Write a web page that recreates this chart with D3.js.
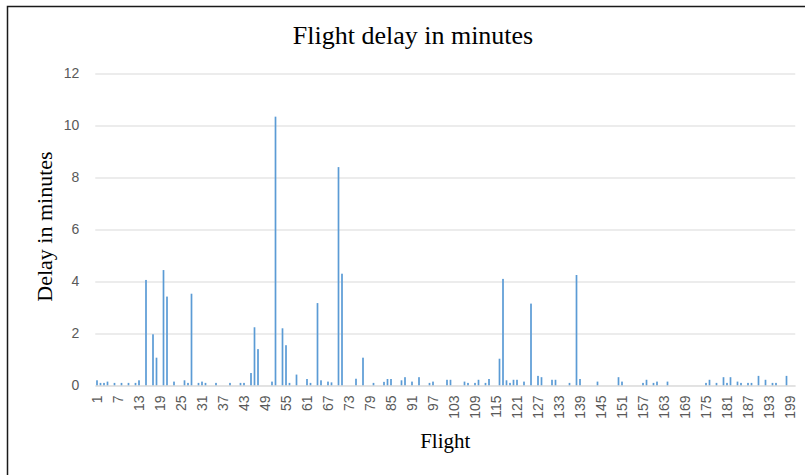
<!DOCTYPE html>
<html>
<head>
<meta charset="utf-8">
<script src="https://cdn.jsdelivr.net/npm/d3@7/dist/d3.min.js"></script>
<style>
  html, body { margin: 0; padding: 0; background: #fff; }
  svg { display: block; }
</style>
</head>
<body>
<svg id="chart" width="805" height="475"></svg>
<script>
// ---- data ----
const chartTitle = "Flight delay in minutes";
const xTitle = "Flight";
const yTitle = "Delay in minutes";
const flightCount = 200;
const delays = [
  0.2,0.1,0.1,0.15,0,0.1,0,0.1,0,0.1,
  0,0.1,0.2,0,4.06,0,1.97,1.07,0,4.44,
  3.42,0,0.15,0,0,0.2,0.1,3.53,0,0.1,
  0.15,0.1,0,0,0.1,0,0,0,0.1,0,
  0,0.1,0.1,0,0.48,2.24,1.4,0,0,0,
  0.15,10.34,0,2.2,1.55,0.1,0,0.42,0,0,
  0.25,0.1,0,3.17,0.2,0,0.15,0.12,0,8.4,
  4.3,0,0,0,0.26,0,1.07,0,0,0.1,
  0,0,0.14,0.25,0.25,0,0,0.2,0.32,0,
  0.15,0,0.32,0,0,0.1,0.15,0,0,0,
  0.22,0.22,0,0,0,0.15,0.1,0,0.1,0.22,
  0,0.1,0.25,0,0,1.03,4.1,0.2,0.1,0.22,
  0.22,0,0.15,0,3.15,0,0.37,0.32,0,0,
  0.22,0.22,0,0,0,0.1,0,4.25,0.25,0,
  0,0,0,0.15,0,0,0,0,0,0.32,
  0.15,0,0,0,0,0,0.1,0.22,0,0.1,
  0.15,0,0,0.15,0,0,0,0,0,0,
  0,0,0,0,0.1,0.22,0,0.1,0,0.32,
  0.1,0.32,0,0.15,0.1,0,0.1,0.1,0,0.37,
  0,0.22,0,0.1,0.1,0,0,0.37,0,0
];
const xTickLabels = [1,7,13,19,25,31,37,43,49,55,61,67,73,79,85,91,97,103,109,115,121,127,133,139,145,151,157,163,169,175,181,187,193,199];
const yTickValues = [0,2,4,6,8,10,12];

const flights = d3.range(1, flightCount + 1);
const rows = flights.map((f, i) => ({ flight: f, delay: delays[i] }));

// ---- layout ----
const svg = d3.select("#chart");
const plot = { left: 95.25, right: 795.25, top: 73.5, bottom: 385.5 };

const x = d3.scaleBand().domain(flights).range([plot.left, plot.right]).padding(0);
const y = d3.scaleLinear().domain([0, 12]).range([plot.bottom, plot.top]);

// border
svg.append("rect")
  .attr("x", 7.5).attr("y", 6.5)
  .attr("width", 812).attr("height", 490)
  .attr("fill", "none").attr("stroke", "#1a1a1a").attr("stroke-width", 1.5);

// gridlines
const yAxis = d3.axisLeft(y).tickValues(yTickValues)
  .tickSize(-(plot.right - plot.left)).tickPadding(16);
const gy = svg.append("g").attr("transform", `translate(${plot.left},0)`).call(yAxis);
gy.select(".domain").remove();
gy.selectAll(".tick line").attr("stroke", "#d9d9d9").attr("stroke-width", 1);
gy.selectAll(".tick text")
  .attr("fill", "#595959")
  .style("font-family", "'Liberation Sans', Arial, sans-serif")
  .style("font-size", "14px");

// bars
const barW = 1.7;
svg.append("g").selectAll("rect").data(rows).join("rect")
  .attr("x", d => x(d.flight) + x.bandwidth() / 2 - barW / 2)
  .attr("width", barW)
  .attr("y", d => y(d.delay))
  .attr("height", d => y(0) - y(d.delay))
  .attr("fill", "#5b9bd5");

// x axis
const xAxis = d3.axisBottom(x).tickValues(xTickLabels).tickSize(0).tickPadding(0);
const gx = svg.append("g").attr("transform", `translate(0,${plot.bottom})`).call(xAxis);
gx.select(".domain").attr("stroke", "#d9d9d9");
gx.selectAll(".tick text")
  .attr("fill", "#595959")
  .style("font-family", "'Liberation Sans', Arial, sans-serif")
  .style("font-size", "14px")
  .attr("text-anchor", "end")
  .attr("transform", "rotate(-90)")
  .attr("x", -10)
  .attr("y", 0)
  .attr("dy", "0.35em");

// titles
svg.append("text")
  .attr("x", 413).attr("y", 44)
  .attr("text-anchor", "middle")
  .style("font-family", "'Liberation Serif', 'Times New Roman', serif")
  .style("font-size", "26px")
  .attr("fill", "#000")
  .text(chartTitle);

svg.append("text")
  .attr("x", (plot.left + plot.right) / 2).attr("y", 448)
  .attr("text-anchor", "middle")
  .style("font-family", "'Liberation Serif', 'Times New Roman', serif")
  .style("font-size", "21px")
  .attr("fill", "#000")
  .text(xTitle);

svg.append("text")
  .attr("transform", `translate(52,${(plot.top + plot.bottom) / 2 - 3}) rotate(-90)`)
  .attr("text-anchor", "middle")
  .style("font-family", "'Liberation Serif', 'Times New Roman', serif")
  .style("font-size", "22px")
  .attr("fill", "#000")
  .text(yTitle);
</script>
</body>
</html>
